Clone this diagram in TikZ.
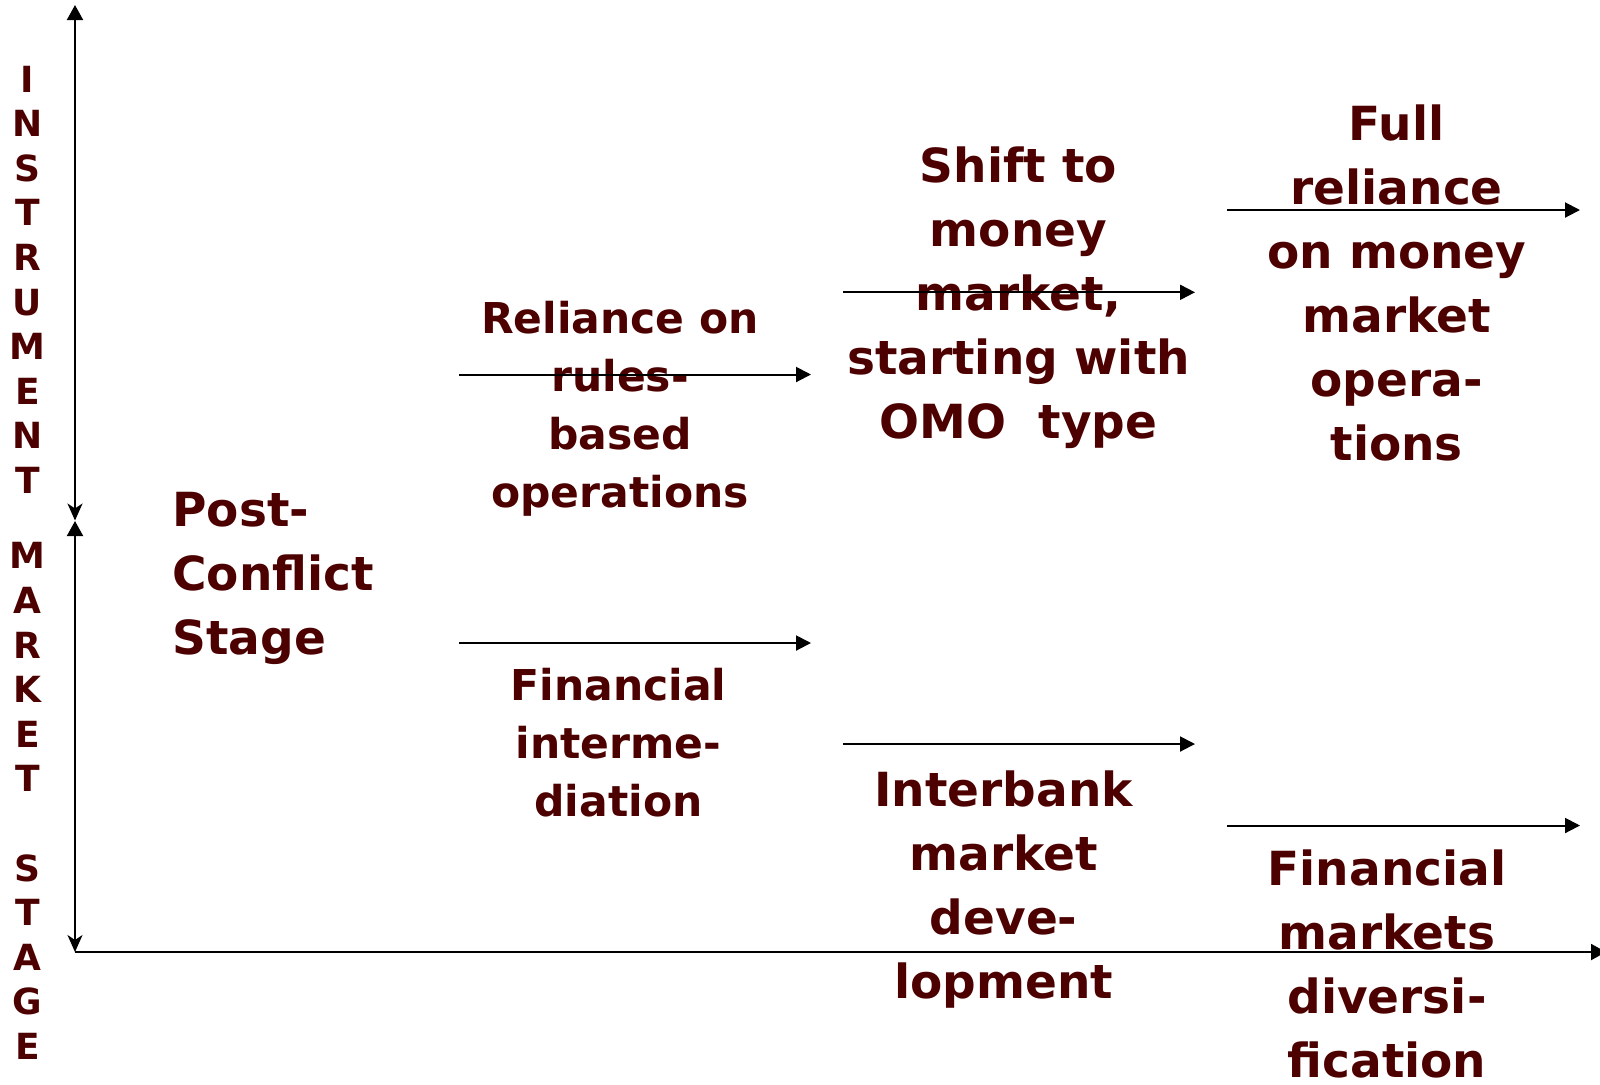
\documentclass[tikz,border=0pt]{standalone}
\usepackage{fontspec}
\setmainfont{DejaVu Sans}
\usetikzlibrary{arrows.meta}
\definecolor{maroon}{RGB}{77,0,0}
\begin{document}
\begin{tikzpicture}[x=0.5pt,y=-0.5pt,
  bigtxt/.style={text=maroon,font=\bfseries\fontsize{23.5pt}{32pt}\selectfont,align=center,inner sep=0pt,anchor=base},
  smalltxt/.style={text=maroon,font=\bfseries\fontsize{21.25pt}{29pt}\selectfont,align=center,inner sep=0pt,anchor=base},
  vtxt/.style={text=maroon,font=\bfseries\fontsize{18pt}{22.3pt}\selectfont,align=center,inner sep=0pt,anchor=base},
  conn/.style={line width=1pt,-{Triangle[length=7.5pt,width=7.5pt]}},
  axisup/.style={line width=1pt,{Stealth[length=8.5pt,width=7.5pt,inset=2.5pt]}-{Triangle[length=7.5pt,width=8pt]}}]
\useasboundingbox (0,0) rectangle (1600,1084);
% axes
\coordinate (o) at (75,952);
\coordinate (mid) at (75,520.5);
\coordinate (midb) at (75,521);
\coordinate (top) at (75,5);
\coordinate (xend) at (1606,952);
\draw[axisup] (mid) -- (top);
\draw[axisup] (o) -- (midb);
\draw[line width=1pt,-{Triangle[length=7.5pt,width=8pt]}] (o) -- (xend);
% axis labels (anchored at the baseline of the last line)
\node[vtxt] (instr) at (27.5,493.5) {I\\N\\S\\T\\R\\U\\M\\E\\N\\T};
\node[vtxt] (mkt) at (27.5,1059.5) {M\\A\\R\\K\\E\\T\\\mbox{}\\S\\T\\A\\G\\E};
% texts
\node[bigtxt,anchor=base west,align=left] (post) at (172,654) {Post-\\Conflict\\Stage};
\node[smalltxt] (rel) at (620,507) {Reliance on\\rules-\\based\\operations};
\node[smalltxt] (fin) at (618.5,816.5) {Financial\\interme-\\diation};
\node[bigtxt] (shift) at (1018.5,438.5) {Shift to\\money\\market,\\starting with\\OMO\ \ type};
\node[bigtxt] (inter) at (1003.7,998) {Interbank\\market\\deve-\\lopment};
\node[bigtxt] (full) at (1396.7,460) {Full\\reliance\\on money\\market\\opera-\\tions};
\node[bigtxt] (finm) at (1387,1077) {Financial\\markets\\diversi-\\fication};
% arrows
\coordinate (a1s) at (459,374.5); \coordinate (a1e) at (811,374.5);
\coordinate (a2s) at (459,643);   \coordinate (a2e) at (811,643);
\coordinate (a3s) at (843,292.3); \coordinate (a3e) at (1195,292.3);
\coordinate (a4s) at (843,744);   \coordinate (a4e) at (1195,744);
\coordinate (a5s) at (1227,210);  \coordinate (a5e) at (1580,210);
\coordinate (a6s) at (1227,825.5);\coordinate (a6e) at (1580,825.5);
\draw[conn] (a1s) -- (a1e);
\draw[conn] (a2s) -- (a2e);
\draw[conn] (a3s) -- (a3e);
\draw[conn] (a4s) -- (a4e);
\draw[conn] (a5s) -- (a5e);
\draw[conn] (a6s) -- (a6e);
\end{tikzpicture}
\end{document}
